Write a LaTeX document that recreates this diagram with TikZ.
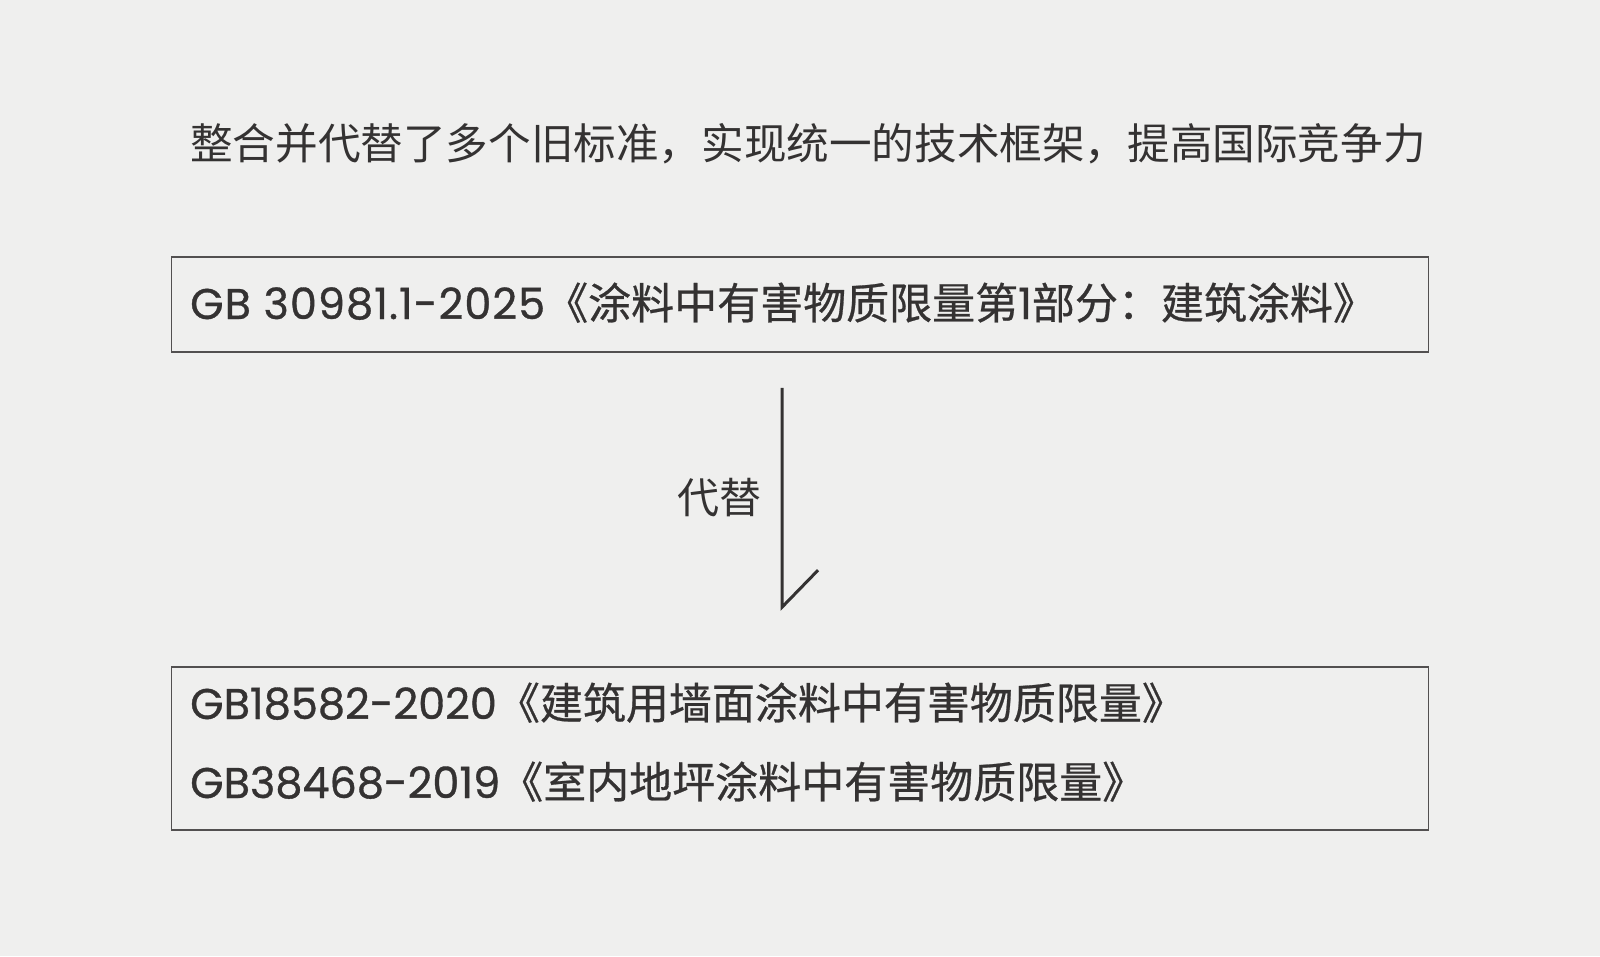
\documentclass[tikz,border=0pt]{standalone}
\usepackage{fontspec}
\setmainfont{Noto Sans CJK SC}
\newfontfamily\cjk{Noto Sans CJK SC}
\newfontfamily\cjkm[FakeBold=0.6]{Noto Sans CJK SC}
\newfontfamily\lat[FakeBold=0.8]{Poppins}
\newfontfamily\latwide[FakeBold=0.8,LetterSpace=2.4]{Poppins}
\usetikzlibrary{positioning,calc}
\definecolor{paper}{RGB}{239,239,238}
\definecolor{ink}{RGB}{52,50,50}
\definecolor{rulegray}{RGB}{82,80,80}
\newcommand{\gbno}[1]{{\lat\fontsize{43pt}{43pt}\selectfont #1}}

\begin{document}
\begin{tikzpicture}[x=1pt,y=-1pt,
    stdbox/.style={draw=rulegray,line width=1.6pt,minimum width=1257pt,inner sep=0pt},
    stdtext/.style={anchor=base west,inner sep=0pt,text=ink,font=\fontsize{43pt}{43pt}\selectfont}
  ]
  \useasboundingbox (0,0) rectangle (1600,956);
  \fill[paper] (0,0) rectangle (1600,956);
  % headline
  \node[stdtext,font=\fontsize{42.6pt}{43pt}\selectfont] (goal) at (190,159.5) {\cjk 整合并代替了多个旧标准，实现统一的技术框架，提高国际竞争力};
  % new standard
  \node[stdbox,minimum height=95pt] (newstd) at (800,304.5) {};
  \node[stdtext] (newname) at (190,319) {{\latwide\fontsize{43pt}{43pt}\selectfont GB 30981.1-2025}\cjkm《涂料中有害物质限量第\gbno{1}部分：建筑涂料》};
  % old standards
  \node[stdbox,minimum height=163pt] (oldstd) at (800,748.5) {};
  \node[stdtext] (oldwall) at (190,719) {\gbno{GB18582-2020}\cjkm《建筑用墙面涂料中有害物质限量》};
  \node[stdtext] (oldfloor) at (190,798) {\gbno{GB38468-2019}\cjkm《室内地坪涂料中有害物质限量》};
  % arrow
  \coordinate (from) at ($(newstd.south)+(-18,35)$);
  \coordinate (to) at ($(oldstd.north)+(-18,-59)$);
  \draw[ink,line width=3pt] (from) -- (to) -- ++(36,-37);
  \coordinate (mid) at ($(from)!0.5!(to)$);
  \node[left=20pt of mid,inner sep=0pt,text=ink,font=\cjk\fontsize{42pt}{42pt}\selectfont] (replace) {代替};
\end{tikzpicture}
\end{document}
